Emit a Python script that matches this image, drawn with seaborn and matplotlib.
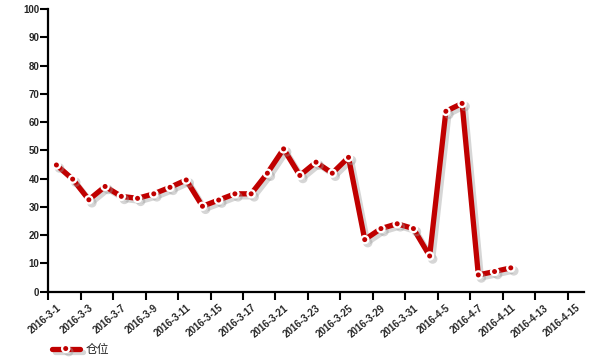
import numpy as np
import pandas as pd
import matplotlib
matplotlib.use("Agg")
import matplotlib.pyplot as plt
import matplotlib.patheffects as pe
import seaborn as sns

dates = ["2016-3-1", "2016-3-2", "2016-3-3", "2016-3-4", "2016-3-7", "2016-3-8",
         "2016-3-9", "2016-3-10", "2016-3-11", "2016-3-14", "2016-3-15", "2016-3-16",
         "2016-3-17", "2016-3-18", "2016-3-21", "2016-3-22", "2016-3-23", "2016-3-24",
         "2016-3-25", "2016-3-28", "2016-3-29", "2016-3-30", "2016-3-31", "2016-4-1",
         "2016-4-5", "2016-4-6", "2016-4-7", "2016-4-8", "2016-4-11", "2016-4-12",
         "2016-4-13", "2016-4-14", "2016-4-15"]
values = [44.8, 39.8, 32.5, 37.2, 33.7, 33.0, 34.6, 36.9, 39.5, 30.2, 32.4, 34.6,
          34.6, 41.9, 50.5, 41.1, 45.8, 41.9, 47.5, 18.4, 22.3, 24.0, 22.3, 12.6,
          63.8, 66.6, 5.9, 7.1, 8.4]
series_name = "仓位"
yticks = list(range(0, 101, 10))

sns.set_theme(style="white")
plt.rcParams['font.family'] = ['Liberation Sans', 'Noto Sans CJK SC', 'DejaVu Sans']

vals = values + [np.nan] * (len(dates) - len(values))
df = pd.DataFrame({"pos": np.arange(len(dates)) + 0.5, "value": vals, "date": dates})

fig = plt.figure(figsize=(6, 3.6), dpi=100)
ax = fig.add_axes([0.0805, 0.19, 0.973 - 0.0805, 0.975 - 0.19])

red = "#c00000"
sns.lineplot(data=df, x="pos", y="value", ax=ax, color=red, linewidth=3.8,
             marker="o", markersize=5.2, markerfacecolor=red,
             markeredgecolor="white", markeredgewidth=1.6, label=series_name,
             path_effects=[pe.SimpleLineShadow(offset=(2.2, -2.2), shadow_color="#999999", alpha=0.4),
                           pe.Normal()])

ax.set_xlim(0, len(dates))
ax.set_ylim(0, 100)
ax.set_yticks(yticks)
ax.set_yticklabels([str(t) for t in yticks], fontsize=7, fontweight="bold")

major = np.arange(0, len(dates), 2)
ax.set_xticks(major)
ax.set_xticklabels([])
ax.set_xticks(major + 0.5, minor=True)
ax.set_xticklabels([dates[i] for i in major], minor=True, rotation=40, ha="right",
                   rotation_mode="anchor", fontsize=7, fontweight="bold")
ax.tick_params(axis="x", which="major", direction="out", length=6, width=1.5, color="black", bottom=True)
ax.tick_params(axis="x", which="minor", length=0, pad=8, bottom=True)
ax.tick_params(axis="y", direction="out", length=5.5, width=1.5, color="black", pad=1, left=True)

ax.set_xlabel("")
ax.set_ylabel("")
for s in ["top", "right"]:
    ax.spines[s].set_visible(False)
for s in ["left", "bottom"]:
    ax.spines[s].set_color("black")
    ax.spines[s].set_linewidth(1.6)
ax.grid(False)

leg = ax.legend(loc="center left", bbox_to_anchor=(0.078, 0.03), bbox_transform=fig.transFigure,
                frameon=False, handlelength=2.4, handletextpad=0.5, borderaxespad=0,
                prop={"family": ["Noto Sans CJK SC", "DejaVu Sans"], "size": 8.5})

fig.savefig("out.png", dpi=100)
